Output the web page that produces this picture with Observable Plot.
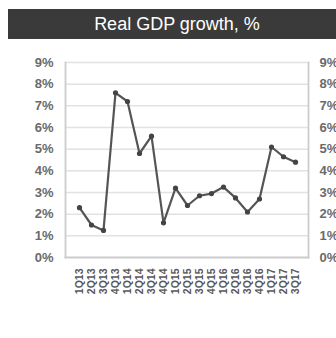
<!DOCTYPE html>
<html>
<head>
<meta charset="utf-8">
<script src="https://cdn.jsdelivr.net/npm/d3@7"></script>
<script src="https://cdn.jsdelivr.net/npm/@observablehq/plot@0.6"></script>
<style>
  html, body { margin: 0; padding: 0; background: #fff; }
  #title {
    margin: 9px 0 0 8px; height: 30px; line-height: 30px;
    background: #3a3a3a; color: #fff; text-align: center;
    font-family: "Liberation Sans", Arial, sans-serif; font-size: 18px;
    padding-left: 10px; box-sizing: border-box;
  }
  #chart svg { display: block; }
</style>
</head>
<body>
<div id="title">Real GDP growth, %</div>
<div id="chart"></div>
<script>
const quarters = ["1Q13","2Q13","3Q13","4Q13","1Q14","2Q14","3Q14","4Q14","1Q15","2Q15","3Q15","4Q15","1Q16","2Q16","3Q16","4Q16","1Q17","2Q17","3Q17"];
const growth = [2.3, 1.5, 1.25, 7.6, 7.2, 4.8, 5.6, 1.6, 3.2, 2.4, 2.85, 2.95, 3.25, 2.75, 2.1, 2.7, 5.1, 4.65, 4.4];
const yTicks = [0,1,2,3,4,5,6,7,8,9];

const data = quarters.map((q, i) => ({q, v: growth[i]}));
const fmt = d => d + "%";

const plot = Plot.plot({
  width: 336,
  height: 299,
  marginTop: 23,
  marginBottom: 81,
  marginLeft: 65,
  marginRight: 28,
  style: {fontFamily: "Liberation Sans, Arial, sans-serif", background: "#fff"},
  x: {type: "point", domain: quarters, padding: 0.5, label: null},
  y: {domain: [0, 9], label: null},
  marks: [
    Plot.gridY(yTicks.filter(d => d > 0), {stroke: "#e2e2e2", strokeWidth: 1.5, strokeOpacity: 1}),
    Plot.frame({stroke: "#cccccc", strokeWidth: 1.8, anchor: "left"}),
    Plot.frame({stroke: "#cccccc", strokeWidth: 1.8, anchor: "right"}),
    Plot.frame({stroke: "#cccccc", strokeWidth: 1.8, anchor: "bottom"}),
    Plot.axisY(yTicks, {anchor: "left", label: null, tickSize: 0, tickPadding: 12, tickFormat: fmt, fontSize: 13, fill: "#6a6a6a", fontWeight: "bold"}),
    Plot.axisY(yTicks, {anchor: "right", label: null, tickSize: 0, tickPadding: 11, tickFormat: fmt, fontSize: 13, fill: "#6a6a6a", fontWeight: "bold"}),
    Plot.axisX({label: null, tickSize: 0, tickPadding: 11, tickRotate: -90, fontSize: 10.5, fill: "#595959", fontWeight: "bold"}),
    Plot.line(data, {x: "q", y: "v", stroke: "#555", strokeWidth: 2.2}),
    Plot.dot(data, {x: "q", y: "v", r: 2.6, fill: "#444", stroke: "none"})
  ]
});
document.getElementById("chart").appendChild(plot);
</script>
</body>
</html>
